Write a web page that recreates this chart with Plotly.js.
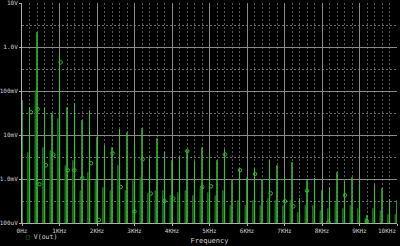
<!DOCTYPE html>
<html><head><meta charset="utf-8">
<script src="https://cdn.plot.ly/plotly-3.0.1.min.js"></script>
<style>html,body{margin:0;padding:0;background:#000;}#chart{width:400px;height:246px;}</style>
</head><body><div id="chart"></div>
<script>
// Harmonic frequencies (Hz) and peak amplitudes (V)
const harmonicFreqs = [0,200,400,600,800,1000,1200,1400,1600,1800,2000,2200,2400,2600,2800,3000,3200,3400,3600,3800,4000,4200,4400,4600,4800,5000,5200,5400,5600,5800,6000,6200,6400,6600,6800,7000,7200,7400,7600,7800,8000,8200,8400,8600,8800,9000,9200,9400,9600,9800,10000];
const harmonicPeaks = [0.0615,0.0427,2.16,0.0427,0.0311,0.72,0.0427,0.0525,0.0216,0.0364,0.00887,0.00583,0.00525,0.0135,0.0115,0.00759,0.0142,0.00311,0.00841,0.00405,0.00266,0.00328,0.00449,0.00252,0.00525,0.00384,0.00266,0.00473,0.000933,0.00175,0.00109,0.00175,0.000984,0.00266,0.00205,0.00121,0.0024,0.000364,0.000933,0.00104,0.000553,0.000647,0.00142,0.000887,0.00109,0.000798,0.00015,0.000719,0.000615,0.000346,0.000328];
// Leakage shoulder level next to each harmonic (V)
const shoulderVals = [0.00525,0.00405,0.104,0.00525,0.00449,0.024,0.00205,0.00266,0.000553,0.00142,0.000933,0.000647,0.000553,0.00205,0.000553,0.000933,0.00109,0.000473,0.000553,0.000553,0.000427,0.000499,0.000553,0.000427,0.000615,0.000499,0.000427,0.000553,0.000252,0.000328,0.000252,0.000328,0.000252,0.000364,0.000328,0.000252,0.000328,0.000175,0.000252,0.000252,0.000195,0.000216,0.000295,0.000216,0.000252,0.000216,0.000128,0.000216,0.000195,0.000158,0.000158];
const floorLevel = 0.00003;
const spikeHalfWidth = 8;
const shoulderOffset = -45;
// Trace symbol markers
const markerFreqs = [240,419,467,640,835,1032,1219,1395,1608,1840,2053,2413,2632,3000,3219,3435,3795,4035,4408,4808,5040,5413,5813,6213,6632,7013,7235,7600,8173,8613,9200];
const markerVals = [0.0328,0.0384,0.00076,0.00205,0.00355,0.449,0.00158,0.00158,0.00105,0.00228,0.000118,0.00384,0.000658,0.000182,0.00281,0.000466,0.000316,0.000359,0.00431,0.000658,0.000682,0.00361,0.00158,0.0013,0.000473,0.000311,0.00024,0.00054,0.000104,0.000427,0.000109];
// Tick labels (the edge labels are placed as annotations so they stay inside the picture)
const xTickVals = [0,1000,2000,3000,4000,5000,6000,7000,8000,9000,10000];
const xTickText = ['0Hz','1KHz','2KHz','3KHz','4KHz','5KHz','6KHz','7KHz','8KHz','9KHz',''];
const xLastLabel = '10KHz';
const yTickVals = [10,1,0.1,0.01,0.001,0.0001];
const yTickText = ['','1.0V','100mV','10mV','1.0mV','100uV'];
const yTopLabel = '10V';
const yMinorVals = [3.162,0.3162,0.03162,0.003162,0.0003162];

const lx = [], ly = [], sx = [], sy = [];
harmonicFreqs.forEach((f, i) => {
  lx.push(f - spikeHalfWidth, f, f + spikeHalfWidth);
  ly.push(floorLevel, harmonicPeaks[i], floorLevel);
  const g = f + shoulderOffset;
  sx.push(g - spikeHalfWidth, g, g + spikeHalfWidth);
  sy.push(floorLevel, shoulderVals[i], floorLevel);
});

const green = '#36c236';
const dark = '#1a6e1a';
const font = {family: 'DejaVu Sans Mono, monospace', size: 6, color: '#d0d0d0'};
const traces = [
  {x: sx, y: sy, type: 'scatter', mode: 'lines', line: {color: dark, width: 1.5}, hoverinfo: 'skip'},
  {x: lx, y: ly, type: 'scatter', mode: 'lines', line: {color: green, width: 1}, hoverinfo: 'skip', name: 'V(out)'},
  {x: markerFreqs, y: markerVals, type: 'scatter', mode: 'markers', marker: {symbol: 'circle-open', size: 3.5, color: '#2fb52f', line: {width: 1, color: '#2fb52f'}}, name: 'V(out)'}
];
const layout = {
  width: 400, height: 246,
  paper_bgcolor: '#000', plot_bgcolor: '#000',
  margin: {l: 22, r: 3, t: 3, b: 23},
  showlegend: false,
  font: font,
  xaxis: {
    range: [0, 10000], tickvals: xTickVals, ticktext: xTickText,
    showgrid: true, gridcolor: '#8a8a8a', gridwidth: 1, zeroline: false,
    showline: true, linecolor: '#b0b0b0', linewidth: 1,
    ticks: 'outside', ticklen: 2, tickcolor: '#b0b0b0', tickfont: font,
    minor: {dtick: 200, tick0: 0, showgrid: true, gridcolor: '#585858', griddash: '2px,2px', gridwidth: 1},
    title: {text: 'Frequency', font: {family: 'DejaVu Sans Mono, monospace', size: 7, color: '#d0d0d0'}, standoff: 4}
  },
  yaxis: {
    type: 'log', range: [-4, 1], tickvals: yTickVals, ticktext: yTickText,
    showgrid: true, gridcolor: '#8a8a8a', gridwidth: 1, zeroline: false,
    showline: true, linecolor: '#b0b0b0', linewidth: 1,
    ticks: 'outside', ticklen: 2, tickcolor: '#b0b0b0', tickfont: font,
    minor: {tickmode: 'array', tickvals: yMinorVals, showgrid: true, gridcolor: '#6a6a6a', griddash: '2px,2px', gridwidth: 1}
  },
  annotations: [{
    xref: 'paper', yref: 'paper', x: 0.005, y: -0.064, xanchor: 'left', yanchor: 'middle',
    showarrow: false, text: '<span style="color:#2fb52f">□</span> V(out)',
    font: {family: 'DejaVu Sans Mono, monospace', size: 6.5, color: '#d0d0d0'}
  }, {
    xref: 'paper', yref: 'paper', x: 1, y: -0.012, xanchor: 'right', yanchor: 'top',
    showarrow: false, text: xLastLabel, font: font, borderpad: 0
  }, {
    xref: 'paper', yref: 'paper', x: 0, y: 1, xanchor: 'right', yanchor: 'middle', yshift: 1,
    xshift: -3, showarrow: false, text: yTopLabel, font: font, borderpad: 0
  }]
};
Plotly.newPlot('chart', traces, layout, {staticPlot: true, displayModeBar: false});
</script></body></html>
